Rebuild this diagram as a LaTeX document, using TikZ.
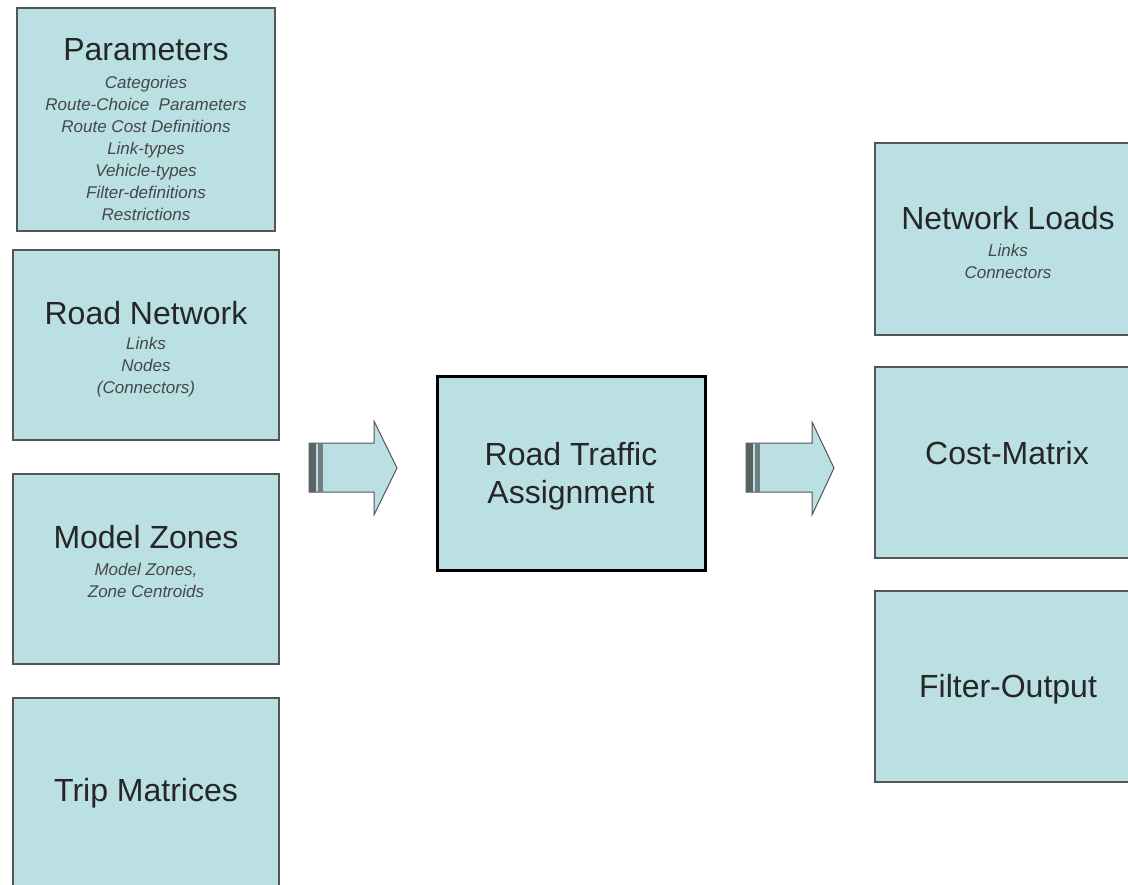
\documentclass[tikz,border=0pt]{standalone}
\usepackage{fontspec}
\setmainfont{Liberation Sans}
\definecolor{boxfill}{RGB}{187,224,228}
\definecolor{boxline}{RGB}{85,85,85}
\definecolor{stripeA}{RGB}{90,100,100}
\definecolor{stripeB}{RGB}{115,125,125}
\begin{document}
\begin{tikzpicture}[x=1pt,y=-1pt,
  box/.style={draw=boxline,line width=1.5pt,fill=boxfill,rectangle,inner sep=0pt},
  ttl/.style={font=\fontsize{32}{38}\selectfont,text=black!85,align=center,inner sep=0pt},
  sub/.style={font=\fontsize{17}{22}\selectfont\itshape,text=black!72,align=center,inner sep=0pt},
  blockarrow/.style={fill=boxfill,draw=boxline,line width=1pt,line join=miter}]
\clip (0,0) rectangle (1128,885);
\fill[white] (0,0) rectangle (1128,885);

% input boxes
\node[box,minimum width=258pt,minimum height=223pt] (par) at (146,119.5) {};
\node[box,minimum width=266pt,minimum height=190pt] (road) at (146,345) {};
\node[box,minimum width=266pt,minimum height=190pt] (zones) at (146,569) {};
\node[box,minimum width=266pt,minimum height=190pt] (trip) at (146,793) {};
% central box
\node[box,draw=black,line width=3pt,minimum width=268pt,minimum height=193pt] (rta) at (571,473.5) {};
% output boxes
\node[box,minimum width=266pt,minimum height=192pt] (loads) at (1008,239) {};
\node[box,minimum width=266pt,minimum height=191pt] (cost) at (1008,462.5) {};
\node[box,minimum width=266pt,minimum height=191pt] (filt) at (1008,686.5) {};

% texts
\node[ttl] (parT) at (146,50) {Parameters};
\node[sub] (parS) at (146,148) {Categories\\Route-Choice\ \ Parameters\\Route Cost Definitions\\Link-types\\Vehicle-types\\Filter-definitions\\Restrictions};
\node[ttl] (roadT) at (146,313) {Road Network};
\node[sub] (roadS) at (146,367) {Links\\Nodes\\(Connectors)};
\node[ttl] (zonesT) at (146,537) {Model Zones};
\node[sub] (zonesS) at (146,580) {Model Zones,\\Zone Centroids};
\node[ttl] (tripT) at (146,793) {Trip Matrices};
\node[ttl] (rtaT) at (571,476) {Road Traffic\\Assignment};
\node[ttl] (loadsT) at (1008,218) {Network Loads};
\node[sub] (loadsS) at (1008,261) {Links\\Connectors};
\node[ttl] (costT) at (1007,453) {Cost-Matrix};
\node[ttl] (filtT) at (1008,689) {Filter-Output};

% block arrows
\coordinate (a1) at (309,443);
\draw[blockarrow] (a1) -- (374,443) -- (374,421) -- (397,468) -- (374,515) -- (374,492) -- (309,492) -- cycle;
\fill[stripeA] (309,443) rectangle (316,492);
\fill[stripeB] (318,443) rectangle (323,492);

\coordinate (a2) at (746,443);
\draw[blockarrow] (a2) -- (812,443) -- (812,422) -- (834,468) -- (812,515) -- (812,492) -- (746,492) -- cycle;
\fill[stripeA] (746,443) rectangle (753,492);
\fill[stripeB] (755,443) rectangle (760,492);
\end{tikzpicture}
\end{document}
